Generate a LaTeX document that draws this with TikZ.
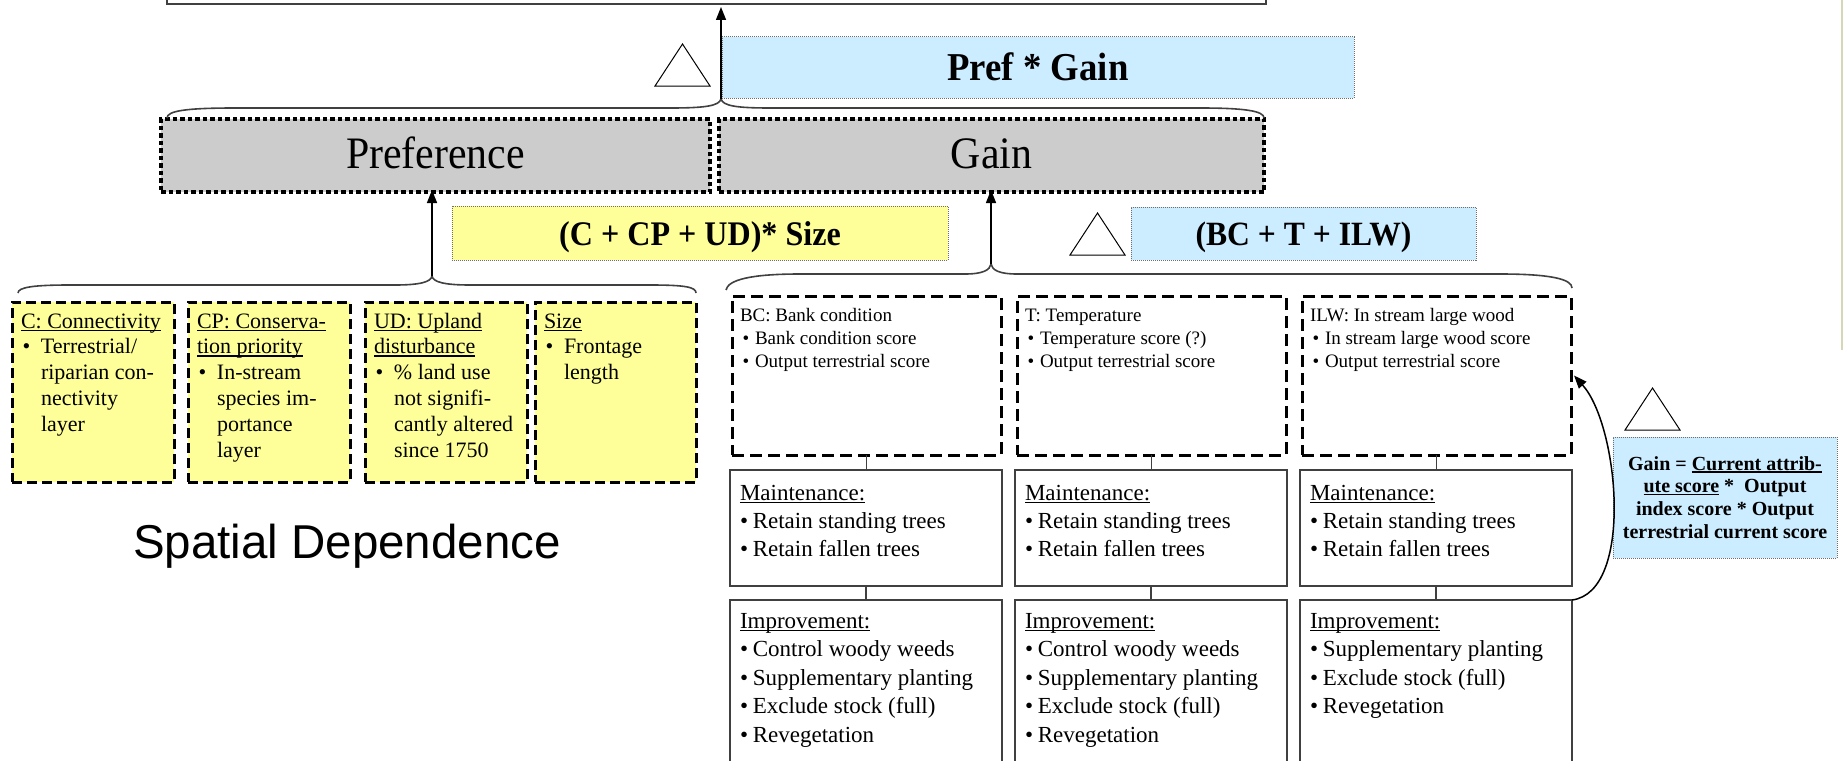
\documentclass[tikz,border=0pt]{standalone}
\usepackage{fontspec}
\setmainfont{Liberation Serif}
\newfontfamily\headfont{Liberation Serif}[FakeStretch=0.93]
\newfontfamily\labelsans{Liberation Sans}
\usetikzlibrary{arrows.meta}

\definecolor{boxgray}{RGB}{204,204,204}
\definecolor{noteblue}{RGB}{204,236,255}
\definecolor{noteyellow}{RGB}{255,255,153}
\definecolor{edgegray}{RGB}{64,64,64}
\definecolor{dotgray}{RGB}{110,110,110}
\definecolor{framekhaki}{RGB}{214,214,184}

% underline close to the baseline, as a word processor draws it
\newcommand{\uln}[1]{\leavevmode\setbox0=\hbox{#1}\rlap{\rule[-0.13em]{\wd0}{0.06em}}\box0\relax}
% bullet: leading space, then a box of fixed width holding the bullet
\newcommand{\bul}[2]{\hspace*{#1}\makebox[#2][l]{\textbullet}}

\tikzset{
  every node/.style={inner sep=0pt, outer sep=0pt},
  level/.style={draw=black, fill=boxgray, line width=4pt, dash pattern=on 4.5pt off 3pt},
  note/.style={draw=dotgray, line width=1pt, dash pattern=on 1pt off 1pt},
  factor/.style={draw=black, fill=noteyellow, line width=3pt, dash pattern=on 10pt off 5pt},
  attr/.style={draw=black, line width=3pt, dash pattern=on 12pt off 6pt},
  action/.style={draw=edgegray, line width=1.8pt},
  brace/.style={draw=edgegray, line width=1.6pt},
  arr/.style={draw=black, line width=1.5pt, -{Triangle[length=13pt,width=10pt]}},
  link/.style={draw=edgegray, line width=1.5pt},
  marker/.style={draw=black, fill=white, line width=1pt},
  headtext/.style={anchor=base, font=\headfont\bfseries},
  factortext/.style={anchor=base west, text=black},
}

\begin{document}
\begin{tikzpicture}[x=1pt,y=-1pt]
\useasboundingbox (0,0) rectangle (1843,760);
\fill[white] (0,0) rectangle (1843,760);
\draw[framekhaki, line width=2pt] (1842,0) -- (1842,350);

% ---------- goal box (only its lower edge is in view) ----------
\node[draw=edgegray, line width=2.5pt, minimum width=1099pt, minimum height=40pt] (goal) at (716.5,-16) {};

% ---------- top level ----------
\node[note, fill=noteblue, minimum width=632pt, minimum height=61pt] (prefgain) at (1038,67.5) {};
\node[headtext] (prefgaint) at (1038,80) {\fontsize{39.5}{42}\selectfont Pref * Gain};
\draw[marker] (655,86) -- (710,86) -- (682.5,44) -- cycle;

\node[level, minimum width=549pt, minimum height=73pt] (pref) at (435.5,155.5) {};
\node[level, minimum width=545pt, minimum height=73pt] (gain) at (991.5,155.5) {};
\node[anchor=base] (preft) at (435.5,168) {\headfont\fontsize{45}{50}\selectfont Preference};
\node[anchor=base] (gaint) at (991.5,168) {\headfont\fontsize{45}{50}\selectfont Gain};

% brace over Preference and Gain
\coordinate (topTip) at (721,99);
\draw[brace] (167,118) .. controls (167,111) and (185,108) .. (235,108) -- (670,108)
  .. controls (705,108) and (719,106) .. (topTip)
  .. controls (723,106) and (737,108) .. (770,108) -- (1200,108)
  .. controls (1245,108) and (1264,111) .. (1264,118);
\draw[arr] (topTip) -- ([yshift=-3pt]topTip |- goal.south);

% ---------- formulas ----------
\node[note, fill=noteyellow, minimum width=496pt, minimum height=54pt] (sizef) at (700,233) {};
\node[headtext] (sizeft) at (700,245) {\fontsize{34.5}{38}\selectfont (C + CP + UD)* Size};
\node[note, fill=noteblue, minimum width=345pt, minimum height=53pt] (bctf) at (1303.5,233.5) {};
\node[headtext] (bctft) at (1303.5,245) {\fontsize{34}{38}\selectfont (BC + T + ILW)};
\draw[marker] (1070,255) -- (1125,255) -- (1097.5,213) -- cycle;

% ---------- preference factors ----------
\coordinate (prefTip) at (432,276);
\draw[brace] (18,293) .. controls (18,287) and (35,285) .. (70,285) -- (395,285)
  .. controls (420,285) and (431,282) .. (prefTip)
  .. controls (433,282) and (444,285) .. (470,285) -- (650,285)
  .. controls (685,285) and (696,287) .. (696,293);
\draw[arr] (prefTip) -- ([yshift=2pt]prefTip |- pref.south);

\node[factor, minimum width=162pt, minimum height=180pt] (c) at (93,392) {};
\node[factor, minimum width=162pt, minimum height=180pt] (cp) at (269,392) {};
\node[factor, minimum width=162pt, minimum height=180pt] (ud) at (446,392) {};
\node[factor, minimum width=161pt, minimum height=180pt] (size) at (615.5,392) {};

\node[factortext] (ct) at ([shift={(9,26)}]c.north west) {\parbox[t]{200pt}{\fontsize{22}{25.8}\selectfont\raggedright
  \uln{C: Connectivity}\\
  \bul{1.6pt}{18.4pt}Terrestrial/\\
  \hspace*{20pt}riparian con-\\
  \hspace*{20pt}nectivity\\
  \hspace*{20pt}layer}};
\node[factortext] (cpt) at ([shift={(9,26)}]cp.north west) {\parbox[t]{200pt}{\fontsize{22}{25.8}\selectfont\raggedright
  \uln{CP: Conserva-}\\
  \uln{tion priority}\\
  \bul{1.6pt}{18.4pt}In-stream\\
  \hspace*{20pt}species im-\\
  \hspace*{20pt}portance\\
  \hspace*{20pt}layer}};
\node[factortext] (udt) at ([shift={(9,26)}]ud.north west) {\parbox[t]{200pt}{\fontsize{22}{25.8}\selectfont\raggedright
  \uln{UD: Upland}\\
  \uln{disturbance}\\
  \bul{1.6pt}{18.4pt}\% land use\\
  \hspace*{20pt}not signifi-\\
  \hspace*{20pt}cantly altered\\
  \hspace*{20pt}since 1750}};
\node[factortext] (sizet) at ([shift={(9,26)}]size.north west) {\parbox[t]{200pt}{\fontsize{22}{25.8}\selectfont\raggedright
  \uln{Size}\\
  \bul{1.6pt}{18.4pt}Frontage\\
  \hspace*{20pt}length}};

\node[anchor=base] (spatial) at (347,558) {\labelsans\fontsize{47.5}{50}\selectfont Spatial Dependence};

% ---------- gain attributes ----------
\coordinate (gainTip) at (991,264);
\draw[brace] (726,290) .. controls (728,280) and (750,274) .. (800,274) -- (965,274)
  .. controls (983,274) and (990,270) .. (gainTip)
  .. controls (992,270) and (999,274) .. (1017,274) -- (1500,274)
  .. controls (1550,274) and (1572,279) .. (1572,288);
\draw[arr] (gainTip) -- ([yshift=2pt]gainTip |- gain.south);

\node[attr, minimum width=269pt, minimum height=159pt] (bc) at (866.5,375.5) {};
\node[attr, minimum width=269pt, minimum height=159pt] (t) at (1151.5,375.5) {};
\node[attr, minimum width=269pt, minimum height=159pt] (ilw) at (1436.5,375.5) {};

\node[factortext] (bct) at ([shift={(8,25)}]bc.north west) {\parbox[t]{260pt}{\fontsize{19}{23}\selectfont\raggedright
  BC: Bank condition\\
  \bul{2.7pt}{12.3pt}Bank condition score\\
  \bul{2.7pt}{12.3pt}Output terrestrial score}};
\node[factortext] (tt) at ([shift={(8,25)}]t.north west) {\parbox[t]{260pt}{\fontsize{19}{23}\selectfont\raggedright
  T: Temperature\\
  \bul{2.7pt}{12.3pt}Temperature score (?)\\
  \bul{2.7pt}{12.3pt}Output terrestrial score}};
\node[factortext] (ilwt) at ([shift={(8,25)}]ilw.north west) {\parbox[t]{260pt}{\fontsize{19}{23}\selectfont\raggedright
  ILW: In stream large wood\\
  \bul{2.7pt}{12.3pt}In stream large wood score\\
  \bul{2.7pt}{12.3pt}Output terrestrial score}};

% maintenance actions
\node[action, minimum width=272pt, minimum height=116pt] (bcM) at (866,528) {};
\node[action, minimum width=272pt, minimum height=116pt] (tM) at (1151,528) {};
\node[action, minimum width=272pt, minimum height=116pt] (ilwM) at (1436,528) {};
\foreach \b in {bcM,tM,ilwM}{
  \node[factortext] (\b txt) at ([shift={(10,30)}]\b.north west) {\parbox[t]{260pt}{\fontsize{23}{28}\selectfont\raggedright
    \uln{Maintenance:}\\
    \bul{0pt}{12.8pt}Retain standing trees\\
    \bul{0pt}{12.8pt}Retain fallen trees}};
}

% improvement actions
\node[action, minimum width=272pt, minimum height=200pt] (bcI) at (866,700) {};
\node[action, minimum width=272pt, minimum height=200pt] (tI) at (1151,700) {};
\node[action, minimum width=272pt, minimum height=200pt] (ilwI) at (1436,700) {};
\foreach \b in {bcI,tI}{
  \node[factortext] (\b txt) at ([shift={(10,28)}]\b.north west) {\parbox[t]{260pt}{\fontsize{23}{28.6}\selectfont\raggedright
    \uln{Improvement:}\\
    \bul{0pt}{12.8pt}Control woody weeds\\
    \bul{0pt}{12.8pt}Supplementary planting\\
    \bul{0pt}{12.8pt}Exclude stock (full)\\
    \bul{0pt}{12.8pt}Revegetation}};
}
\node[factortext] (ilwItxt) at ([shift={(10,28)}]ilwI.north west) {\parbox[t]{260pt}{\fontsize{23}{28.6}\selectfont\raggedright
  \uln{Improvement:}\\
  \bul{0pt}{12.8pt}Supplementary planting\\
  \bul{0pt}{12.8pt}Exclude stock (full)\\
  \bul{0pt}{12.8pt}Revegetation}};

% links between the stacked boxes
\foreach \a/\m/\i in {bc/bcM/bcI, t/tM/tI, ilw/ilwM/ilwI}{
  \draw[link] (\a.south) -- (\a.south |- \m.north);
  \draw[link] (\m.south) -- (\m.south |- \i.north);
}

% ---------- gain definition ----------
\draw[marker] (1625,430) -- (1680,430) -- (1652.5,388) -- cycle;
\node[note, fill=noteblue, minimum width=224pt, minimum height=121pt] (gainf) at (1725,497.5) {};
\node[anchor=base] (gainft) at (1725,470) {\parbox[t]{224pt}{\centering\bfseries\fontsize{20}{22.7}\selectfont
  Gain = \uln{Current attrib-}\\
  \uln{ute score} *\ \ Output\\
  index score * Output\\
  terrestrial current score}};
\draw[arr] (ilwI.north east) .. controls +(62,-8) and +(45,50) .. ([xshift=3pt]ilw.east);

\end{tikzpicture}
\end{document}
